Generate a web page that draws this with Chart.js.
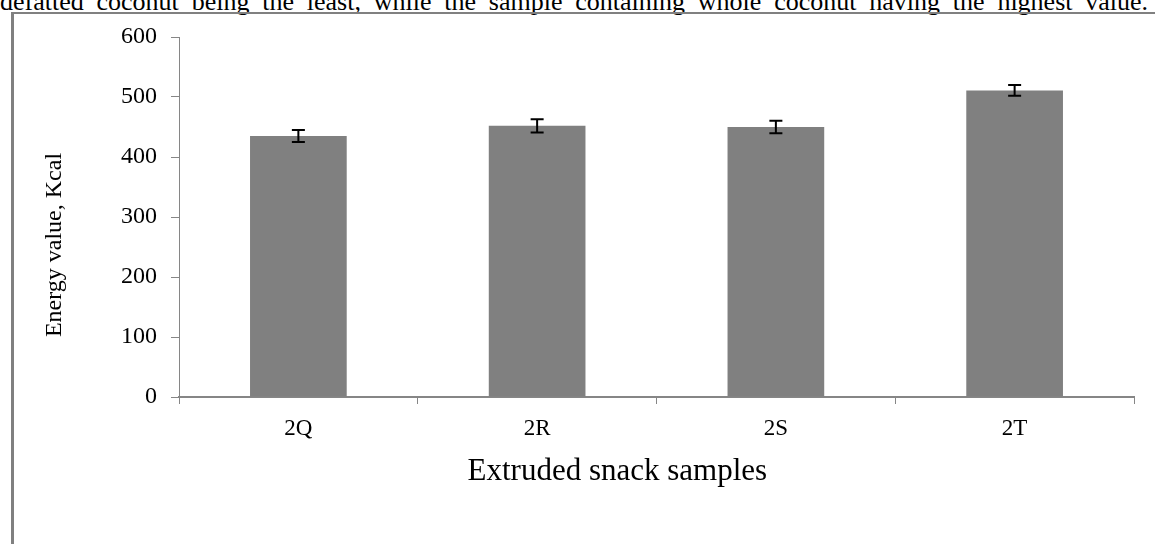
<!DOCTYPE html>
<html>
<head>
<meta charset="utf-8">
<script src="https://cdn.jsdelivr.net/npm/chart.js@4.4.1/dist/chart.umd.min.js"></script>
<style>
  html, body { margin: 0; padding: 0; background: #fff; overflow: hidden; }
  #wrap { position: relative; width: 1155px; height: 544px; }
  #topText {
    position: absolute; left: 0; top: -11px; white-space: nowrap; word-spacing: 6.3px;
    font-family: "Liberation Serif", serif; font-size: 26px; line-height: 26px; color: #000;
  }
  #frame {
    position: absolute; left: 11px; top: 12px; width: 1200px; height: 600px;
    border-left: 3px solid #808080; border-top: 2px solid #808080;
  }
  #myChart { position: absolute; left: 0; top: 0; }
</style>
</head>
<body>
<div id="wrap">
  <div id="topText">defatted coconut being the least, while the sample containing whole coconut having the highest value.</div>
  <div id="frame"></div>
  <canvas id="myChart" width="1155" height="544"></canvas>
</div>
<script>
// Data
const samples = ["2Q", "2R", "2S", "2T"];
const energy = [435, 452, 450, 511];
const energyErr = [10, 11, 10.5, 9];
const yTicks = [0, 100, 200, 300, 400, 500, 600];

const serif = '"Liberation Serif", "Times New Roman", serif';

// Draw error bars and axis titles on top of the bars
const errorBars = {
    id: 'errorBars',
    afterDatasetsDraw(chart) {
        const ctx = chart.ctx;
        const x = chart.scales.x;
        const y = chart.scales.y;
        ctx.save();
        ctx.strokeStyle = '#000';
        ctx.lineWidth = 2;
        energy.forEach((v, i) => {
            const cx = x.getPixelForValue(i);
            const top = y.getPixelForValue(v + energyErr[i]);
            const bot = y.getPixelForValue(v - energyErr[i]);
            ctx.beginPath();
            ctx.moveTo(cx, top); ctx.lineTo(cx, bot);
            ctx.moveTo(cx - 6.5, top); ctx.lineTo(cx + 6.5, top);
            ctx.moveTo(cx - 6.5, bot); ctx.lineTo(cx + 6.5, bot);
            ctx.stroke();
        });
        ctx.restore();
    },
    afterDraw(chart) {
        const ctx = chart.ctx;
        const area = chart.chartArea;
        ctx.save();
        ctx.fillStyle = '#000';
        ctx.textAlign = 'center';
        ctx.textBaseline = 'alphabetic';
        ctx.font = '31px ' + serif;
        ctx.fillText('Extruded snack samples', area.left + (area.right - area.left) * 0.459, 480);
        ctx.textBaseline = 'middle';
        ctx.translate(55, 245);
        ctx.rotate(-Math.PI / 2);
        ctx.font = '24px ' + serif;
        ctx.fillText('Energy value, Kcal', 0, 0);
        ctx.restore();
    }
};

const ctx = document.getElementById('myChart').getContext('2d');
const myChart = new Chart(ctx, {
    type: 'bar',
    data: {
        labels: samples,
        datasets: [{
            data: energy,
            backgroundColor: '#808080',
            borderWidth: 0,
            categoryPercentage: 1,
            barPercentage: 0.405
        }]
    },
    options: {
        responsive: false,
        animation: false,
        layout: { padding: { top: 37, right: 21, left: 0, bottom: 0 } },
        plugins: { legend: { display: false }, tooltip: { enabled: false } },
        scales: {
            x: {
                grid: { drawOnChartArea: false, drawTicks: true, tickLength: 7, color: '#868686', offset: true },
                border: { color: '#868686', width: 2 },
                ticks: { color: '#000', font: { family: serif, size: 23 }, padding: 11 },
                afterFit: s => { s.height = 147; }
            },
            y: {
                min: 0,
                max: 600,
                afterBuildTicks: s => { s.ticks = yTicks.map(v => ({ value: v })); },
                grid: { drawOnChartArea: false, drawTicks: true, tickLength: 8, color: '#868686' },
                border: { color: '#868686', width: 1 },
                ticks: { color: '#000', font: { family: serif, size: 24 }, padding: 14 },
                afterFit: s => { s.width = 179; }
            }
        }
    },
    plugins: [errorBars]
});
</script>
</body>
</html>
